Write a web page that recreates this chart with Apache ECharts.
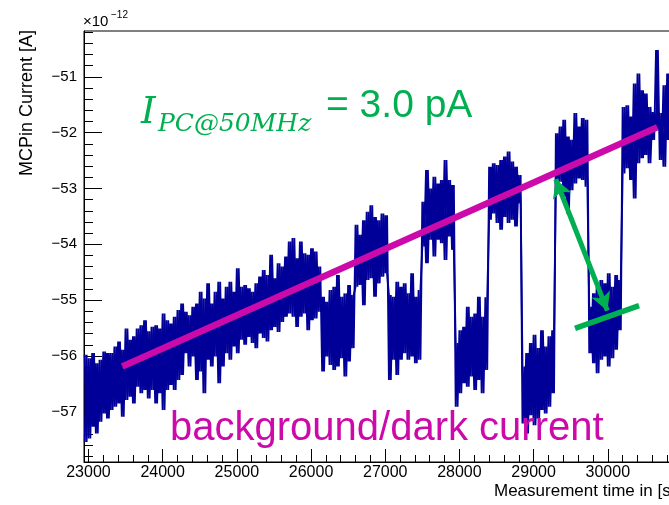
<!DOCTYPE html>
<html><head><meta charset="utf-8">
<script src="https://cdn.jsdelivr.net/npm/echarts@6/dist/echarts.min.js"></script>
<style>html,body{margin:0;padding:0;background:#fff}#c{width:669px;height:505px}</style>
</head><body><div id="c"></div>
<script>
// ---- data ----
const traceStart = 22950;   // time of first sample [s]
const traceStep = 50;       // sample spacing [s]
const traceHigh = [
-55.98,-56.04,-55.95,-56.13,-56.07,-55.92,-55.95,-55.95,-55.83,-55.74,-55.89,-55.51,-55.71,-55.65,-55.51,-55.45,-55.36,-55.56,-55.48,-55.45,-55.51,-55.24,-55.36,-55.42,-55.30,-55.18,-55.06,
-55.21,-55.27,-55.12,-55.06,-54.85,-54.97,-54.70,-55.06,-54.85,-54.67,-54.97,-54.76,-54.67,-54.85,-54.43,-54.76,-54.73,-54.79,-54.85,-54.70,-54.58,-54.46,-54.55,-54.19,-54.61,-54.34,-54.40,
-54.22,-53.95,-53.89,-54.25,-53.95,-54.16,-54.19,-54.07,-54.13,-54.40,-54.94,-55.03,-54.82,-54.76,-54.55,-54.94,-54.88,-54.73,-54.91,-53.65,-53.83,-53.57,-53.42,-53.30,-53.51,-53.57,-53.45,
-53.48,-54.91,-54.94,-54.67,-54.76,-54.70,-54.88,-54.52,-54.94,-54.82,-53.24,-52.67,-53.00,-52.79,-52.91,-52.85,-52.49,-52.85,-52.94,-55.77,-55.54,-55.48,-55.12,-55.30,-55.24,-54.94,-55.30,
-54.95,-52.61,-52.55,-52.58,-52.49,-52.43,-52.34,-52.52,-52.61,-52.76,-56.19,-55.95,-55.77,-55.62,-55.86,-55.54,-55.83,-55.65,-55.54,-52.01,-51.89,-51.77,-52.07,-52.13,-51.65,-51.89,-51.74,
-51.77,-55.12,-54.88,-54.76,-54.64,-54.70,-54.52,-54.76,-54.55,-54.64,-51.54,-51.51,-51.71,-51.12,-50.94,-51.24,-51.30,-51.54,-51.63,-50.52,-51.65,-51.15,-50.94,-51.18
];
const traceLow = [
-57.54,-57.48,-57.27,-57.39,-57.18,-57.03,-57.12,-56.97,-56.91,-56.85,-57.09,-56.79,-56.73,-56.85,-56.55,-56.67,-56.61,-56.76,-56.61,-56.85,-56.67,-56.97,-56.61,-56.52,-56.61,-56.43,-56.34,
-55.95,-56.19,-56.01,-56.43,-56.28,-56.67,-56.07,-56.19,-56.01,-56.49,-56.19,-55.95,-56.07,-55.83,-55.95,-55.71,-55.80,-55.66,-55.77,-55.86,-55.60,-55.68,-55.74,-55.54,-55.48,-55.57,-55.39,
-55.30,-55.24,-55.30,-55.48,-55.30,-55.24,-55.54,-55.36,-55.33,-55.21,-56.28,-56.01,-56.16,-56.25,-56.19,-56.04,-56.37,-56.10,-55.86,-54.76,-54.73,-55.09,-54.64,-54.61,-54.94,-54.70,-54.58,
-54.52,-56.43,-56.07,-56.34,-56.07,-55.95,-56.07,-56.01,-56.13,-56.07,-54.04,-54.34,-53.92,-54.22,-53.92,-53.98,-54.28,-53.86,-54.10,-56.91,-56.67,-56.49,-56.55,-56.37,-56.61,-56.43,-56.67,
-56.25,-53.56,-53.45,-53.62,-53.74,-53.51,-53.62,-53.56,-53.68,-53.27,-57.21,-57.39,-57.06,-57.24,-57.12,-56.97,-57.03,-56.91,-56.67,-52.97,-52.88,-53.15,-53.45,-53.03,-52.91,-52.82,-52.85,
-52.97,-55.95,-56.13,-56.31,-56.07,-56.01,-56.19,-56.04,-55.89,-55.54,-52.73,-52.64,-52.85,-53.18,-52.55,-52.46,-52.40,-52.55,-52.13,-51.95,-52.49,-52.61,-52.13,-52.25
];
const xMajorTicks = [23000,24000,25000,26000,27000,28000,29000,30000];
const yMajorTicks = [-57,-56,-55,-54,-53,-52,-51];
const fitLine = [[23456,-56.19],[30667,-51.905]];     // magenta background line
const darkLine = [[29558,-55.505],[30421,-55.10]];    // green dark-level line
const arrowEnds = [[29298,-52.836],[29994,-55.19]];   // green double arrow

// ---- build: each sample drawn as a high/low swing (two interleaved passes) ----
const traceA = [], traceB = [];
for (let i = 0; i < traceHigh.length; i++) {
  const t = traceStart + i * traceStep;
  traceA.push([t, traceHigh[i]]);
  traceA.push([t + traceStep / 2, traceLow[i]]);
  traceB.push([t, traceLow[i]]);
  traceB.push([t + traceStep / 2, traceHigh[i]]);
}
const xMin = 22940, xMax = 31000, yMin = -57.9, yMax = -50.18;
const xMinor = [], yMinor = [];
for (let v = 23200; v < xMax; v += 200) if (v % 1000 !== 0) xMinor.push(v);
for (let k = -289; k <= -251; k++) { if (k % 5 !== 0) yMinor.push(k / 5); }

const MAG = '#CC0AAA', GRN = '#00B050', NAVY = '#000099', SANS = '"Liberation Sans", Arial, sans-serif';
const chart = echarts.init(document.getElementById('c'), null, {renderer: 'canvas'});
chart.setOption({
  animation: false,
  backgroundColor: '#fff',
  grid: {left: 84, top: 31, width: 598, height: 431, show: true, borderColor: '#000', borderWidth: 1,
         backgroundColor: 'transparent', containLabel: false, outerBoundsMode: 'none'},
  xAxis: [
    {type: 'value', min: xMin, max: xMax, position: 'bottom',
     axisLine: {show: true, onZero: false, lineStyle: {color: '#000', width: 1}},
     axisTick: {show: true, inside: true, length: 13, customValues: xMajorTicks, lineStyle: {color: '#000'}},
     axisLabel: {show: true, customValues: xMajorTicks, margin: 3, color: '#000', fontSize: 16, fontFamily: SANS,
       formatter: v => String(v)},
     splitLine: {show: false}},
    {type: 'value', min: xMin, max: xMax, position: 'bottom',
     axisLine: {show: false, onZero: false},
     axisTick: {show: true, inside: true, length: 7, customValues: xMinor, lineStyle: {color: '#000'}},
     axisLabel: {show: false}, splitLine: {show: false}}
  ],
  yAxis: [
    {type: 'value', min: yMin, max: yMax, position: 'left',
     axisLine: {show: true, onZero: false, lineStyle: {color: '#000', width: 1}},
     axisTick: {show: true, inside: true, length: 18, customValues: yMajorTicks, lineStyle: {color: '#000'}},
     axisLabel: {show: true, customValues: yMajorTicks, margin: 7, color: '#000', fontSize: 15, fontFamily: SANS,
       formatter: v => String(v).replace('-', '\u2212')},
     splitLine: {show: false}},
    {type: 'value', min: yMin, max: yMax, position: 'left',
     axisLine: {show: false, onZero: false},
     axisTick: {show: true, inside: true, length: 9, customValues: yMinor, lineStyle: {color: '#000'}},
     axisLabel: {show: false}, splitLine: {show: false}}
  ],
  series: [
    {type: 'line', data: traceA, showSymbol: false, silent: true, z: 2, sampling: null,
     lineStyle: {color: NAVY, width: 1.9}},
    {type: 'line', data: traceB, showSymbol: false, silent: true, z: 2, sampling: null,
     lineStyle: {color: NAVY, width: 1.9}},
    {type: 'line', data: fitLine, showSymbol: false, silent: true, z: 3,
     lineStyle: {color: MAG, width: 6.5}},
    {type: 'line', data: darkLine, showSymbol: false, silent: true, z: 4,
     lineStyle: {color: GRN, width: 5.5}},
    {type: 'line', data: [], silent: true, z: 5,
     markLine: {silent: true, animation: false, symbol: ['arrow', 'arrow'], symbolSize: [15, 18],
       label: {show: false}, lineStyle: {color: GRN, width: 5, type: 'solid'},
       emphasis: {disabled: true},
       data: [[{coord: arrowEnds[0]}, {coord: arrowEnds[1]}]]}}
  ],
  graphic: [
    {type: 'text', x: 27, y: 103, rotation: Math.PI / 2, z: 10,
     style: {text: 'MCPin Current [A]', fontSize: 18, fontFamily: SANS, fill: '#000', align: 'center', verticalAlign: 'middle'}},
    {type: 'text', x: 83, y: 22, z: 10,
     style: {text: '\u00d710', fontSize: 15, fontFamily: SANS, fill: '#000', align: 'left', verticalAlign: 'middle'}},
    {type: 'text', x: 111, y: 15, z: 10,
     style: {text: '\u221212', fontSize: 10, fontFamily: SANS, fill: '#000', align: 'left', verticalAlign: 'middle'}},
    {type: 'text', x: 494, y: 491, z: 10,
     style: {text: 'Measurement time in [s]', fontSize: 17, fontFamily: SANS, fill: '#000', align: 'left', verticalAlign: 'middle'}},
    {type: 'text', x: 141, y: 113, z: 10,
     style: {text: 'I', fontSize: 37, fontStyle: 'italic', fontFamily: '"DejaVu Serif", serif', fill: GRN, align: 'left', verticalAlign: 'middle'}},
    {type: 'text', x: 158, y: 124, z: 10,
     style: {text: 'PC@50MHz', fontSize: 25, fontStyle: 'italic', fontFamily: '"DejaVu Serif", serif', fill: GRN, align: 'left', verticalAlign: 'middle'}},
    {type: 'text', x: 326, y: 106, z: 10,
     style: {text: '= 3.0 pA', fontSize: 39, fontFamily: SANS, fill: GRN, align: 'left', verticalAlign: 'middle'}},
    {type: 'text', x: 170, y: 429, z: 10,
     style: {text: 'background/dark current', fontSize: 40, fontFamily: SANS, fill: MAG, align: 'left', verticalAlign: 'middle'}}
  ]
});
</script>
</body></html>
